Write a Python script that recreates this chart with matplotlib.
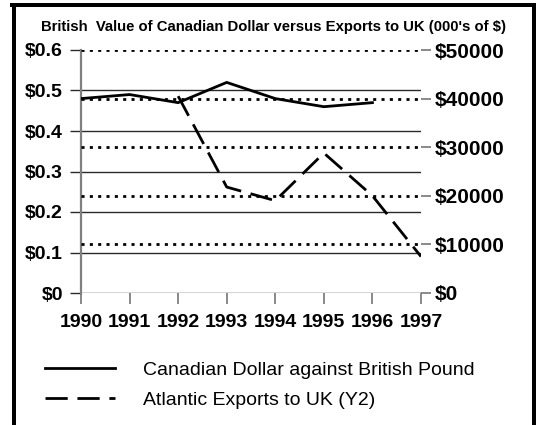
import matplotlib
matplotlib.use('Agg')
from matplotlib import pyplot as plt
from matplotlib.lines import Line2D

plt.rcParams['font.family'] = ['Liberation Sans', 'DejaVu Sans']

# data
years = [1990, 1991, 1992, 1993, 1994, 1995, 1996, 1997]
cad_years = [1990, 1991, 1992, 1993, 1994, 1995, 1996]
cad_gbp = [0.48, 0.49, 0.47, 0.52, 0.48, 0.46, 0.47]
exp_years = [1992, 1993, 1994, 1995, 1996, 1997]
exports = [40500, 21800, 19000, 28800, 20000, 7500]

left_ticks = [0, 0.1, 0.2, 0.3, 0.4, 0.5, 0.6]
left_labels = ['$0', '$0.1', '$0.2', '$0.3', '$0.4', '$0.5', '$0.6']
right_ticks = [0, 10000, 20000, 30000, 40000, 50000]
right_labels = ['$0', '$10000', '$20000', '$30000', '$40000', '$50000']

title = "British  Value of Canadian Dollar versus Exports to UK (000's of $)"
lbl_cad = 'Canadian Dollar against British Pound'
lbl_exp = 'Atlantic Exports to UK (Y2)'

fig = plt.figure(figsize=(5.36, 4.25), dpi=100)
ax = fig.add_axes([81/536, 1 - 293/425, 340/536, 243/425])
ax2 = ax.twinx()

# left axis: solid grid lines
for v in left_ticks[:-1]:
    ax.axhline(v, color='#2a2a2a', lw=1.0, zorder=1)
ax.plot(cad_years, cad_gbp, color='black', lw=2.0, label=lbl_cad, zorder=3)
ax.set_xlim(1990, 1997)
ax.set_ylim(0, 0.6)
ax.set_yticks(left_ticks)
ax.set_yticklabels(left_labels)
ax.set_xticks(years)
ax.set_xticklabels([str(y) for y in years])
for s in ['top', 'right', 'bottom']:
    ax.spines[s].set_visible(False)
ax.spines['left'].set_color('#808080')
ax.spines['left'].set_linewidth(1.6)
ax.tick_params(axis='y', length=8, width=1.0, color='#2a2a2a', pad=5,
               labelsize=14)
ax.tick_params(axis='x', length=8, width=1.3, color='#808080', pad=7,
               labelsize=14)
for t in ax.get_xticklabels() + ax.get_yticklabels():
    t.set_fontweight('bold')

# right axis: dotted grid lines
for v in right_ticks[1:]:
    ax2.axhline(v, color='black', lw=2.0, ls=(0, (1.1, 1.9)), zorder=1)
ax2.plot(exp_years, exports, color='black', lw=2.0, ls=(0, (8, 3.5)),
         label=lbl_exp, zorder=3)
ax2.set_ylim(0, 50000)
ax2.set_yticks(right_ticks)
ax2.set_yticklabels(right_labels)
for s in ['top', 'left', 'bottom', 'right']:
    ax2.spines[s].set_visible(False)
ax2.tick_params(axis='y', length=7, width=1.3, color='#808080', pad=3,
                labelsize=15)
for t in ax2.get_yticklabels():
    t.set_fontweight('bold')

fig.text(0.51, 1 - 27/425, title, ha='center', va='center', fontsize=10.7,
         fontweight='bold')

h1, l1 = ax.get_legend_handles_labels()
h2, l2 = ax2.get_legend_handles_labels()
fig.legend(h1 + h2, l1 + l2, loc='upper left', bbox_to_anchor=(45/536, 1 - 361/425),
           frameon=False, fontsize=14, handlelength=3.6, handletextpad=1.45,
           labelspacing=0.65, borderaxespad=0, borderpad=0)

# outer frame (no bottom edge)
bw = 4
fig.add_artist(Line2D([14/536, 14/536], [0, 1 - 5/425], color='black', lw=bw * 0.72,
                      transform=fig.transFigure))
fig.add_artist(Line2D([534/536, 534/536], [0, 1 - 5/425], color='black', lw=bw * 0.72,
                      transform=fig.transFigure))
fig.add_artist(Line2D([12/536, 536/536], [1 - 5/425, 1 - 5/425], color='black',
                      lw=bw * 0.72, transform=fig.transFigure))

fig.savefig('out.png', dpi=100)
